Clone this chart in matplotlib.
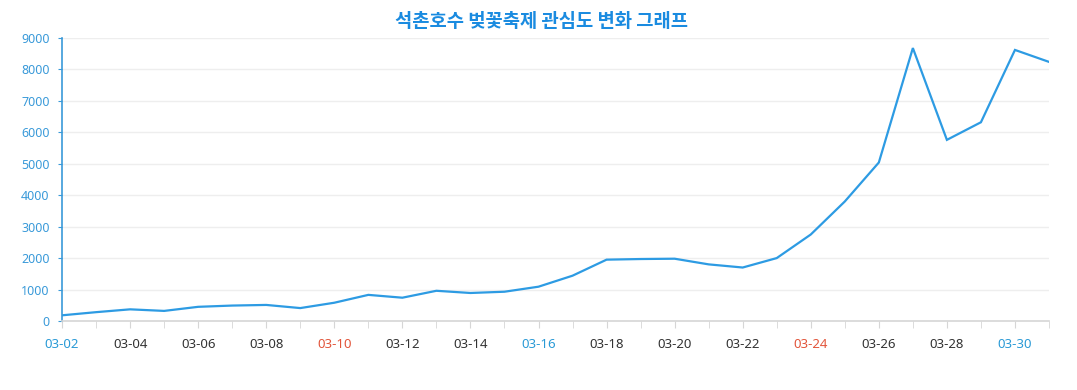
import matplotlib

matplotlib.use("Agg")
import matplotlib.pyplot as plt  # noqa: E402
import numpy as np

plt.rcParams["font.family"] = ["Noto Sans", "Noto Sans CJK KR", "DejaVu Sans"]

TITLE = "석촌호수 벚꽃축제 관심도 변화 그래프"
DATES = [f"03-{d:02d}" for d in range(2, 32)]
INTEREST = [
    180, 280, 370, 320, 450, 490, 510, 410, 580, 830,
    740, 960, 890, 930, 1090, 1440, 1950, 1970, 1980, 1800,
    1700, 2000, 2750, 3800, 5040, 8680, 5760, 6320, 8620, 8240,
]
BLUE_DAYS = ["03-02", "03-16", "03-30"]
RED_DAYS = ["03-10", "03-24"]

C = {
    "line": "#2d9be3",
    "title": "#1a8be0",
    "ytick": "#3a9ad9",
    "xblue": "#2a9ad6",
    "xred": "#e2553b",
    "xdark": "#333333",
    "grid": "#eeeeee",
    "axis": "#d6d6d6",
}

fig = plt.figure(figsize=(10.77, 3.9), dpi=100)
ax = fig.add_axes([0.0576, 0.177, 0.9164, 0.7256])

x = np.arange(len(DATES))
ax.plot(x, INTEREST, color=C["line"], lw=1.6, solid_joinstyle="miter")

ax.set_xlim(0, len(DATES) - 1)
ax.set_ylim(0, 9000)
ax.set_yticks(np.arange(0, 9001, 1000))
ax.grid(axis="y", color=C["grid"], lw=1.0)
ax.set_axisbelow(True)

ax.set_xticks(x, minor=True)
ax.set_xticks(x[::2])
ax.set_xticklabels(DATES[::2], fontsize=9.5)
for lbl in ax.get_xticklabels():
    t = lbl.get_text()
    if t in BLUE_DAYS:
        lbl.set_color(C["xblue"])
    elif t in RED_DAYS:
        lbl.set_color(C["xred"])
    else:
        lbl.set_color(C["xdark"])
ax.tick_params(axis="x", which="both", length=5, color=C["axis"], pad=7)
ax.tick_params(axis="y", length=3, color=C["ytick"], labelcolor=C["ytick"], labelsize=9, pad=6)

for side in ("top", "right"):
    ax.spines[side].set_visible(False)
ax.spines["left"].set_color(C["ytick"])
ax.spines["left"].set_linewidth(1.2)
ax.spines["bottom"].set_color(C["axis"])
ax.spines["bottom"].set_linewidth(1.2)

fig.text(0.503, 0.945, TITLE, ha="center", va="center", fontsize=13.5,
         fontweight="bold", color=C["title"], family=["Noto Sans CJK KR", "DejaVu Sans"])

fig.savefig("out.png", dpi=100, facecolor="white")
